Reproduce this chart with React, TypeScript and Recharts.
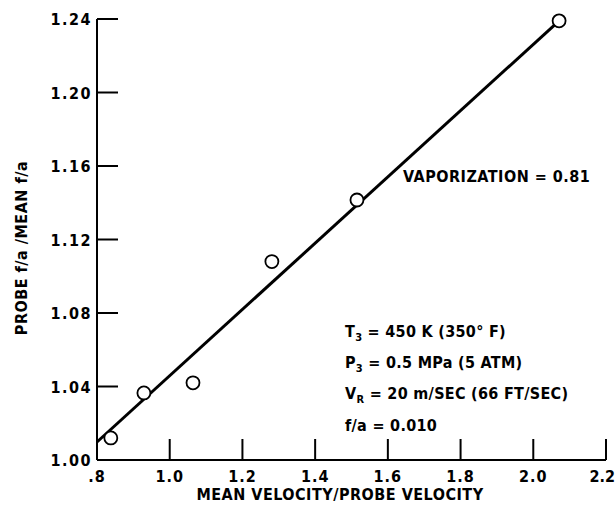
import React from 'react';
import { ScatterChart, Scatter, XAxis, YAxis } from 'recharts';

const xTicks = [0.8, 1.0, 1.2, 1.4, 1.6, 1.8, 2.0, 2.2];
const yTicks = [1.0, 1.04, 1.08, 1.12, 1.16, 1.2, 1.24];

// measured points: mean velocity / probe velocity vs probe f/a / mean f/a
const velocityRatio = [0.838, 0.929, 1.064, 1.281, 1.515, 2.071];
const faRatio = [1.012, 1.0365, 1.042, 1.108, 1.1415, 1.239];

// straight fit line, end points
const fitX = [0.8, 2.071];
const fitY = [1.0098, 1.239];

const measured = velocityRatio.map((x, i) => ({ x, y: faRatio[i] }));
const fit = fitX.map((x, i) => ({ x, y: fitY[i] }));

const FONT = "'Liberation Sans Narrow', 'DejaVu Sans Condensed', sans-serif";
const TICK_LEN = 21;

const YTick = (props: any) => {
  const { x, y, payload } = props;
  return (
    <g>
      <line x1={x} y1={y} x2={x + TICK_LEN} y2={y} stroke="#000" strokeWidth={2} />
      <text x={x - 5} y={y} dy={6} textAnchor="end" fontFamily={FONT} fontWeight="bold" fontSize={16} letterSpacing={1.5} fill="#000">
        {payload.value.toFixed(2)}
      </text>
    </g>
  );
};

const XTick = (props: any) => {
  const { x, y, payload } = props;
  const label = payload.value === 0.8 ? '.8' : payload.value.toFixed(1);
  const last = payload.value === 2.2;
  return (
    <g>
      <line x1={x} y1={y} x2={x} y2={y - TICK_LEN} stroke="#000" strokeWidth={2} />
      <text
        x={last ? x + 9 : x}
        y={y}
        dy={22}
        textAnchor={last ? 'end' : 'middle'}
        fontFamily={FONT}
        fontWeight="bold"
        fontSize={16}
        letterSpacing={last ? 0 : 1}
        fill="#000"
      >
        {label}
      </text>
    </g>
  );
};

const OpenCircle = (props: any) => {
  const { cx, cy } = props;
  return <circle cx={cx} cy={cy} r={6.5} fill="#fff" stroke="#000" strokeWidth={1.8} />;
};

const textStyle = { fontFamily: FONT, fontWeight: 'bold' as const, fontSize: 16, fill: '#000' };

export default function App() {
  return (
    <div style={{ position: 'absolute', left: 0, top: 0, width: 616, height: 511, background: '#fff' }}>
      <ScatterChart width={616} height={511} margin={{ top: 19, right: 10, bottom: 11, left: 37 }}>
        <XAxis
          type="number"
          dataKey="x"
          domain={[0.8, 2.2]}
          ticks={xTicks}
          interval={0}
          height={40}
          tickSize={0}
          tickMargin={0}
          tickLine={false}
          axisLine={{ stroke: '#000', strokeWidth: 2 }}
          tick={<XTick />}
        />
        <YAxis
          type="number"
          dataKey="y"
          domain={[1.0, 1.24]}
          ticks={yTicks}
          interval={0}
          width={60}
          tickSize={0}
          tickMargin={0}
          tickLine={false}
          axisLine={{ stroke: '#000', strokeWidth: 2 }}
          tick={<YTick />}
        />
        <Scatter
          data={fit}
          line={{ stroke: '#000', strokeWidth: 3 }}
          shape={() => <g />}
          isAnimationActive={false}
        />
        <Scatter data={measured} shape={<OpenCircle />} isAnimationActive={false} />
      </ScatterChart>
      <svg width={616} height={511} style={{ position: 'absolute', left: 0, top: 0, pointerEvents: 'none' }}>
        <text {...textStyle} x={21} y={248} dy={6} textAnchor="middle" transform="rotate(-90 21 248)" letterSpacing={0.5}>
          PROBE f/a /MEAN f/a
        </text>
        <text {...textStyle} x={340} y={500} textAnchor="middle" letterSpacing={0.5}>
          MEAN VELOCITY/PROBE VELOCITY
        </text>
        <text {...textStyle} x={403} y={182} letterSpacing={0.5}>
          VAPORIZATION = 0.81
        </text>
        <text {...textStyle} x={345} y={337} letterSpacing={0.3}>
          T<tspan fontSize={11} dy={4}>3</tspan>
          <tspan dy={-4}> = 450 K (350° F)</tspan>
        </text>
        <text {...textStyle} x={345} y={368} letterSpacing={0.3}>
          P<tspan fontSize={11} dy={4}>3</tspan>
          <tspan dy={-4}> = 0.5 MPa (5 ATM)</tspan>
        </text>
        <text {...textStyle} x={345} y={399} letterSpacing={0.3}>
          V<tspan fontSize={11} dy={4}>R</tspan>
          <tspan dy={-4}> = 20 m/SEC (66 FT/SEC)</tspan>
        </text>
        <text {...textStyle} x={345} y={431} letterSpacing={0.3}>
          f/a = 0.010
        </text>
      </svg>
    </div>
  );
}
